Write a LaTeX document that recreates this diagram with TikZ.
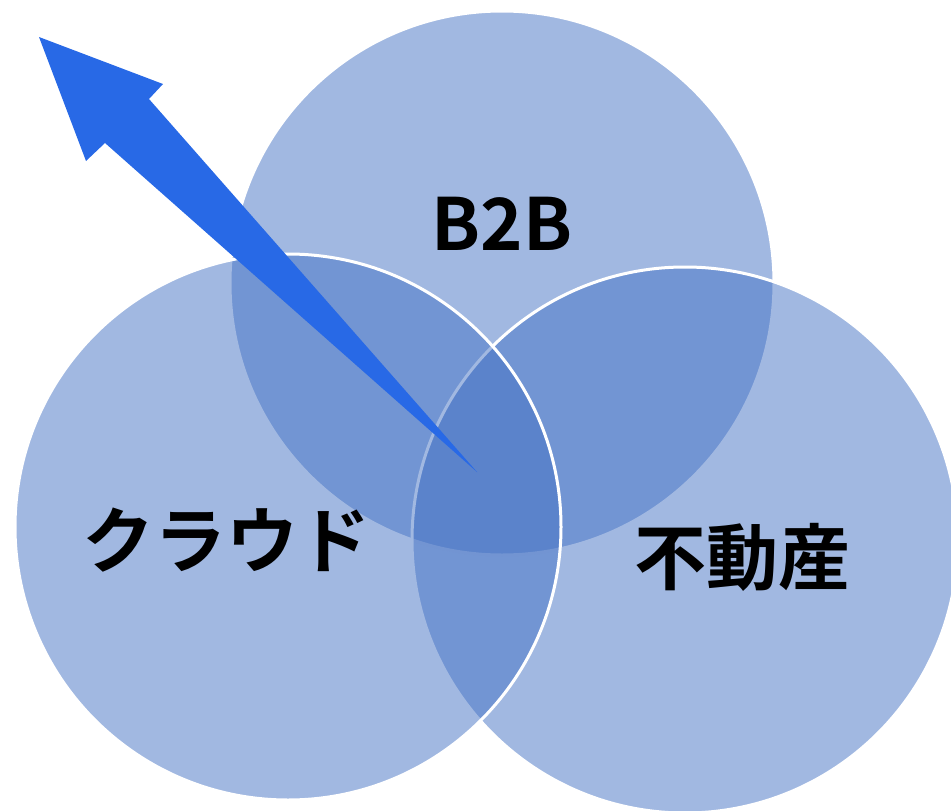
\documentclass[tikz,border=0pt]{standalone}
\usepackage{fontspec}
\newfontfamily\cjk{Noto Sans CJK JP}[BoldFont={* Bold}]
\definecolor{circ}{HTML}{4472C4}
\definecolor{arrowblue}{HTML}{2869E6}
\begin{document}
\begin{tikzpicture}[x=1pt,y=-1pt,
  venn/.style={draw=white, line width=3pt, fill=circ, fill opacity=0.5},
  lbl/.style={font=\cjk\bfseries\fontsize{72}{72}\selectfont, text=black, inner sep=0pt}]
\useasboundingbox (0,0) rectangle (951,811);
\path[venn] (502,283) circle[radius=272];
\path[venn] (685,540) circle[radius=273];
\path[venn] (288,527) circle[radius=273];
\fill[arrowblue] (39,37) -- (163,84) -- (149,99) -- (477,472) -- (105,143) -- (86,161) -- cycle;
\node[lbl] (b2b) at (502,224) {B2B};
\node[lbl] (cloud) at (226,540) {クラウド};
\node[lbl] (fudosan) at (742,557) {不動産};
\end{tikzpicture}
\end{document}
